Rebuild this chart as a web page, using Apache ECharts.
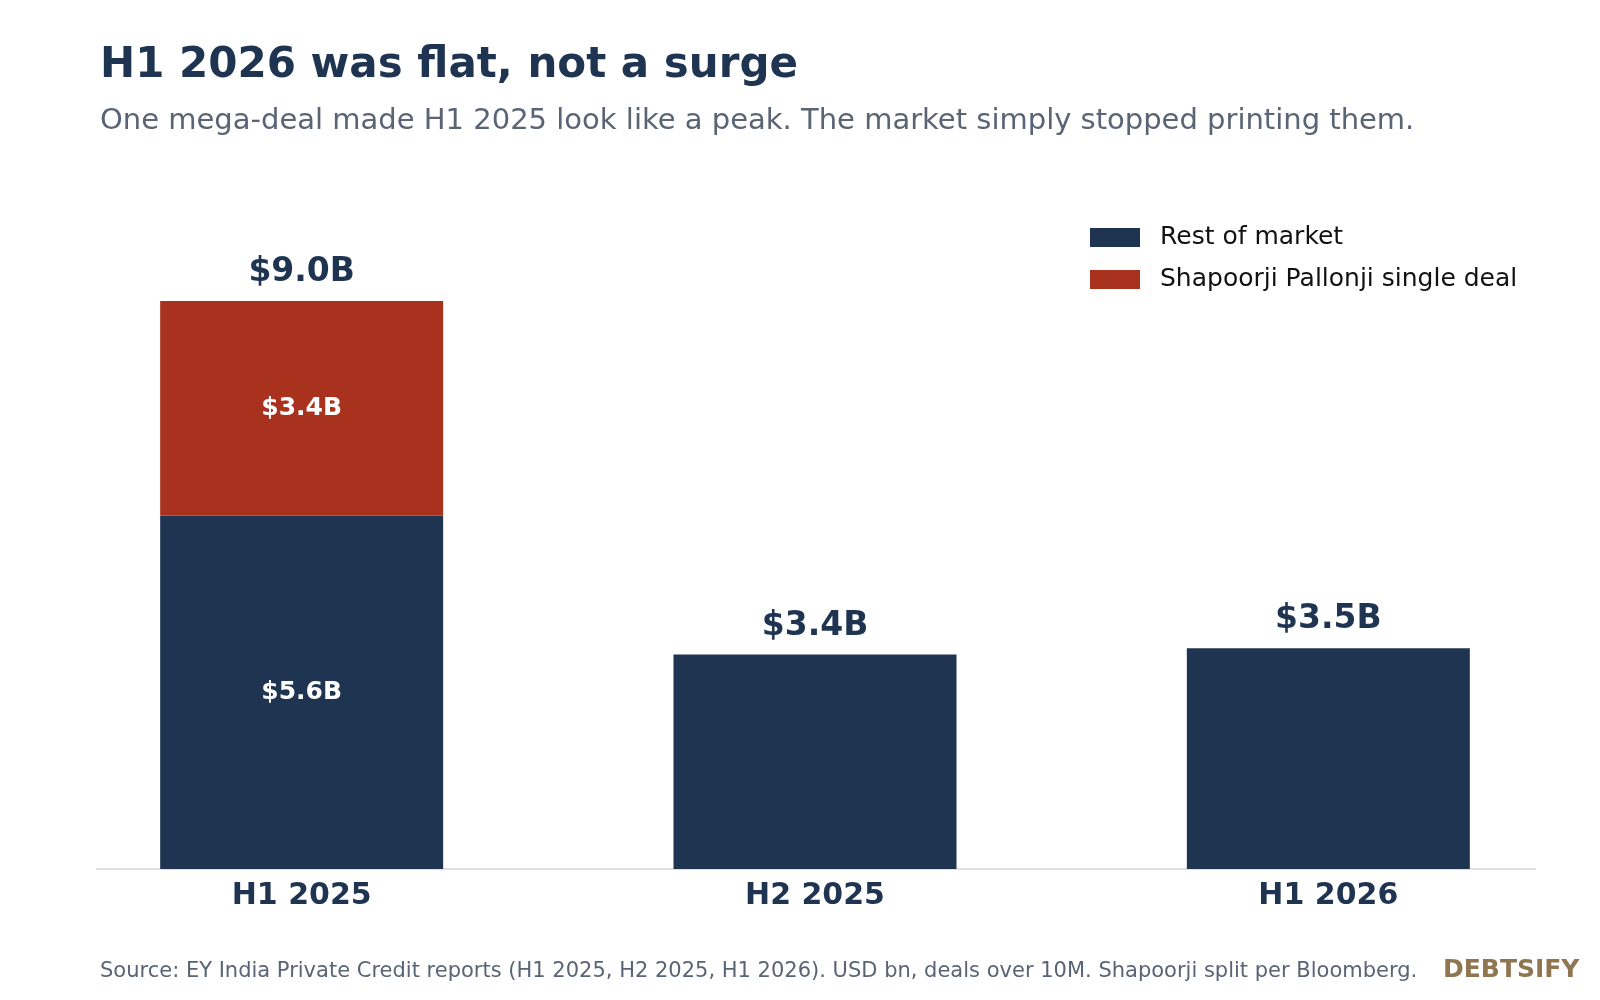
<!DOCTYPE html>
<html>
<head>
<meta charset="utf-8">
<script src="https://cdn.jsdelivr.net/npm/echarts@6/dist/echarts.min.js"></script>
<style>html,body{margin:0;background:#fff}#main{width:1600px;height:1000px}</style>
</head>
<body>
<div id="main"></div>
<script>
// data
var categories = ['H1 2025', 'H2 2025', 'H1 2026'];
var restOfMarket = [5.6, 3.4, 3.5];
var shapoorji = [3.4, 0, 0];
var totals = [9.0, 3.4, 3.5];

var navy = '#1f3451';
var red = '#a8321e';
var font = 'DejaVu Sans';

var totalLabel = {
    show: true, position: 'top', distance: 12,
    color: navy, fontSize: 33, fontWeight: 'bold', fontFamily: font,
    formatter: function (p) { return '$' + totals[p.dataIndex].toFixed(1) + 'B'; }
};
var innerLabel = {
    show: true, position: 'inside', color: '#fff', fontSize: 25, fontWeight: 'bold', fontFamily: font,
    formatter: function (p) { return '$' + p.value.toFixed(1) + 'B'; }
};

// rest of market: inner label when stacked, total label otherwise
var restData = restOfMarket.map(function (v, i) {
    return { value: v, label: shapoorji[i] > 0 ? innerLabel : totalLabel };
});
var redData = shapoorji.map(function (v) {
    return v > 0 ? { value: v, label: innerLabel } : { value: '-' };
});

var myChart = echarts.init(document.getElementById('main'));
var option = {
    animation: false,
    textStyle: { fontFamily: font },
    title: [
        { text: 'H1 2026 was flat, not a surge', left: 95, top: 40,
          textStyle: { fontSize: 42, fontWeight: 'bold', color: navy, fontFamily: font } },
        { text: 'One mega-deal made H1 2025 look like a peak. The market simply stopped printing them.', left: 95, top: 102,
          textStyle: { fontSize: 29, fontWeight: 'normal', color: '#5a6475', fontFamily: font } },
        { text: 'Source: EY India Private Credit reports (H1 2025, H2 2025, H1 2026). USD bn, deals over 10M. Shapoorji split per Bloomberg.',
          left: 95, top: 956, textStyle: { fontSize: 21, fontWeight: 'normal', color: '#5a6475', fontFamily: font } },
        { text: 'DEBTSIFY', left: 1438, top: 953,
          textStyle: { fontSize: 25, fontWeight: 'bold', color: '#8f7650', fontFamily: font } }
    ],
    legend: {
        left: 1085, top: 220, orient: 'vertical', icon: 'rect', itemWidth: 50, itemHeight: 19, itemGap: 17,
        textStyle: { fontSize: 25, color: '#111', fontFamily: font, padding: [0, 0, 0, 15] },
        data: ['Rest of market', 'Shapoorji Pallonji single deal']
    },
    grid: { left: 45, right: 15, top: 238, bottom: 131 },
    xAxis: {
        type: 'category', data: categories,
        axisLine: { show: false },
        axisTick: { show: false },
        axisLabel: { fontSize: 30, fontWeight: 'bold', color: navy, margin: 12, fontFamily: font }
    },
    yAxis: { type: 'value', min: 0, max: 10, show: false, splitLine: { show: false } },
    graphic: [{
        type: 'line', shape: { x1: 96, y1: 869, x2: 1536, y2: 869 },
        style: { stroke: '#e0e0e0', lineWidth: 2 }, z: 0
    }],
    series: [
        { name: 'Rest of market', type: 'bar', stack: 'a', barWidth: 283,
          itemStyle: { color: navy }, data: restData },
        { name: 'Shapoorji Pallonji single deal', type: 'bar', stack: 'a',
          itemStyle: { color: red }, data: redData }
    ]
};
// total label for the stacked bar sits on the red segment
option.series.push({
    type: 'bar', stack: 'a', silent: true, itemStyle: { color: 'transparent' },
    data: shapoorji.map(function (v) {
        return v > 0 ? { value: 0.0001, label: totalLabel } : { value: '-' };
    })
});
myChart.setOption(option);
</script>
</body>
</html>
